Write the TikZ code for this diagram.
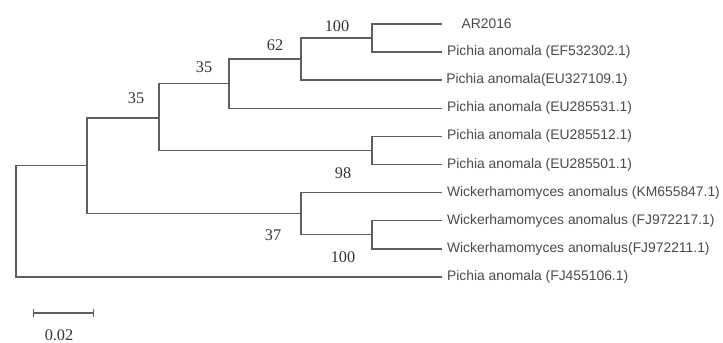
\documentclass[tikz,border=0pt]{standalone}
\usepackage{fontspec}
\setmainfont{Liberation Serif}
\newfontfamily\leaffont{Liberation Sans}
\usepackage{xcolor}
\usepackage{tikz}
\usetikzlibrary{positioning,arrows.meta}

\definecolor{treegray}{HTML}{5E5E5E}
\definecolor{leafgray}{HTML}{4A4A4A}
\definecolor{bootgray}{HTML}{333333}

\begin{document}
\begin{tikzpicture}[x=0.75pt, y=-0.75pt, node distance=3.6pt,
  branch/.style={draw=treegray, line width=1.1pt},
  leaf/.style={anchor=west, inner sep=0pt, text=leafgray, font=\leaffont\fontsize{10.4}{12}\selectfont},
  boot/.style={inner sep=0pt, text=bootgray, font=\fontsize{12.2}{14}\selectfont}]
\useasboundingbox (0,0) rectangle (723,342);
% leaf tips
\coordinate (t1) at (442,24);
\coordinate (t2) at (442,52.1);
\coordinate (t3) at (442,80.2);
\coordinate (t4) at (442,108.3);
\coordinate (t5) at (442,136.4);
\coordinate (t6) at (442,164.5);
\coordinate (t7) at (442,192.6);
\coordinate (t8) at (442,220.7);
\coordinate (t9) at (442,248.8);
\coordinate (t10) at (442,276.9);
% internal nodes
\coordinate (n1) at (372,38);
\coordinate (n2) at (301,59.1);
\coordinate (n3) at (229,83.7);
\coordinate (n4) at (159,117.8);
\coordinate (n5) at (372,150.4);
\coordinate (n6) at (372,234.7);
\coordinate (n7) at (301,213.6);
\coordinate (n8) at (87,165.7);
\coordinate (root) at (16,221.3);
% labels
\node[leaf, right=14.5pt of t1] (l1) {AR2016};
\node[leaf, right=of t2] (l2) {Pichia anomala (EF532302.1)};
\node[leaf, right=3pt of t3] (l3) {Pichia anomala(EU327109.1)};
\node[leaf, right=of t4] (l4) {Pichia anomala (EU285531.1)};
\node[leaf, right=of t5] (l5) {Pichia anomala (EU285512.1)};
\node[leaf, right=of t6] (l6) {Pichia anomala (EU285501.1)};
\node[leaf, right=of t7] (l7) {Wickerhamomyces anomalus (KM655847.1)};
\node[leaf, right=of t8] (l8) {Wickerhamomyces anomalus (FJ972217.1)};
\node[leaf, right=of t9] (l9) {Wickerhamomyces anomalus(FJ972211.1)};
\node[leaf, right=of t10] (l10) {Pichia anomala (FJ455106.1)};
% branches
\draw[branch] (n1) |- (t1);
\draw[branch] (n1) |- (t2);
\draw[branch] (n2) |- (n1);
\draw[branch] (n2) |- (t3);
\draw[branch] (n3) |- (n2);
\draw[branch] (n3) |- (t4);
\draw[branch] (n5) |- (t5);
\draw[branch] (n5) |- (t6);
\draw[branch] (n4) |- (n3);
\draw[branch] (n4) |- (n5);
\draw[branch] (n6) |- (t8);
\draw[branch] (n6) |- (t9);
\draw[branch] (n7) |- (t7);
\draw[branch] (n7) |- (n6);
\draw[branch] (n8) |- (n4);
\draw[branch] (n8) |- (n7);
\draw[branch] (root) |- (n8);
\draw[branch] (root) |- (t10);
% bootstrap values
\node[boot] (b1) at (337,26) {100};
\node[boot] (b2) at (275,45) {62};
\node[boot] (b3) at (204,67) {35};
\node[boot] (b4) at (136,98) {35};
\node[boot] (b5) at (343,173) {98};
\node[boot] (b6) at (273,235) {37};
\node[boot] (b7) at (343,257) {100};
% scale bar
\coordinate (sbl) at (33,313);
\coordinate (sbr) at (94,313);
\draw[branch, {Bar[width=6pt]}-{Bar[width=6pt]}] (sbl) -- (sbr);
\node[boot] (sb) at (59,335) {0.02};
\end{tikzpicture}
\end{document}
